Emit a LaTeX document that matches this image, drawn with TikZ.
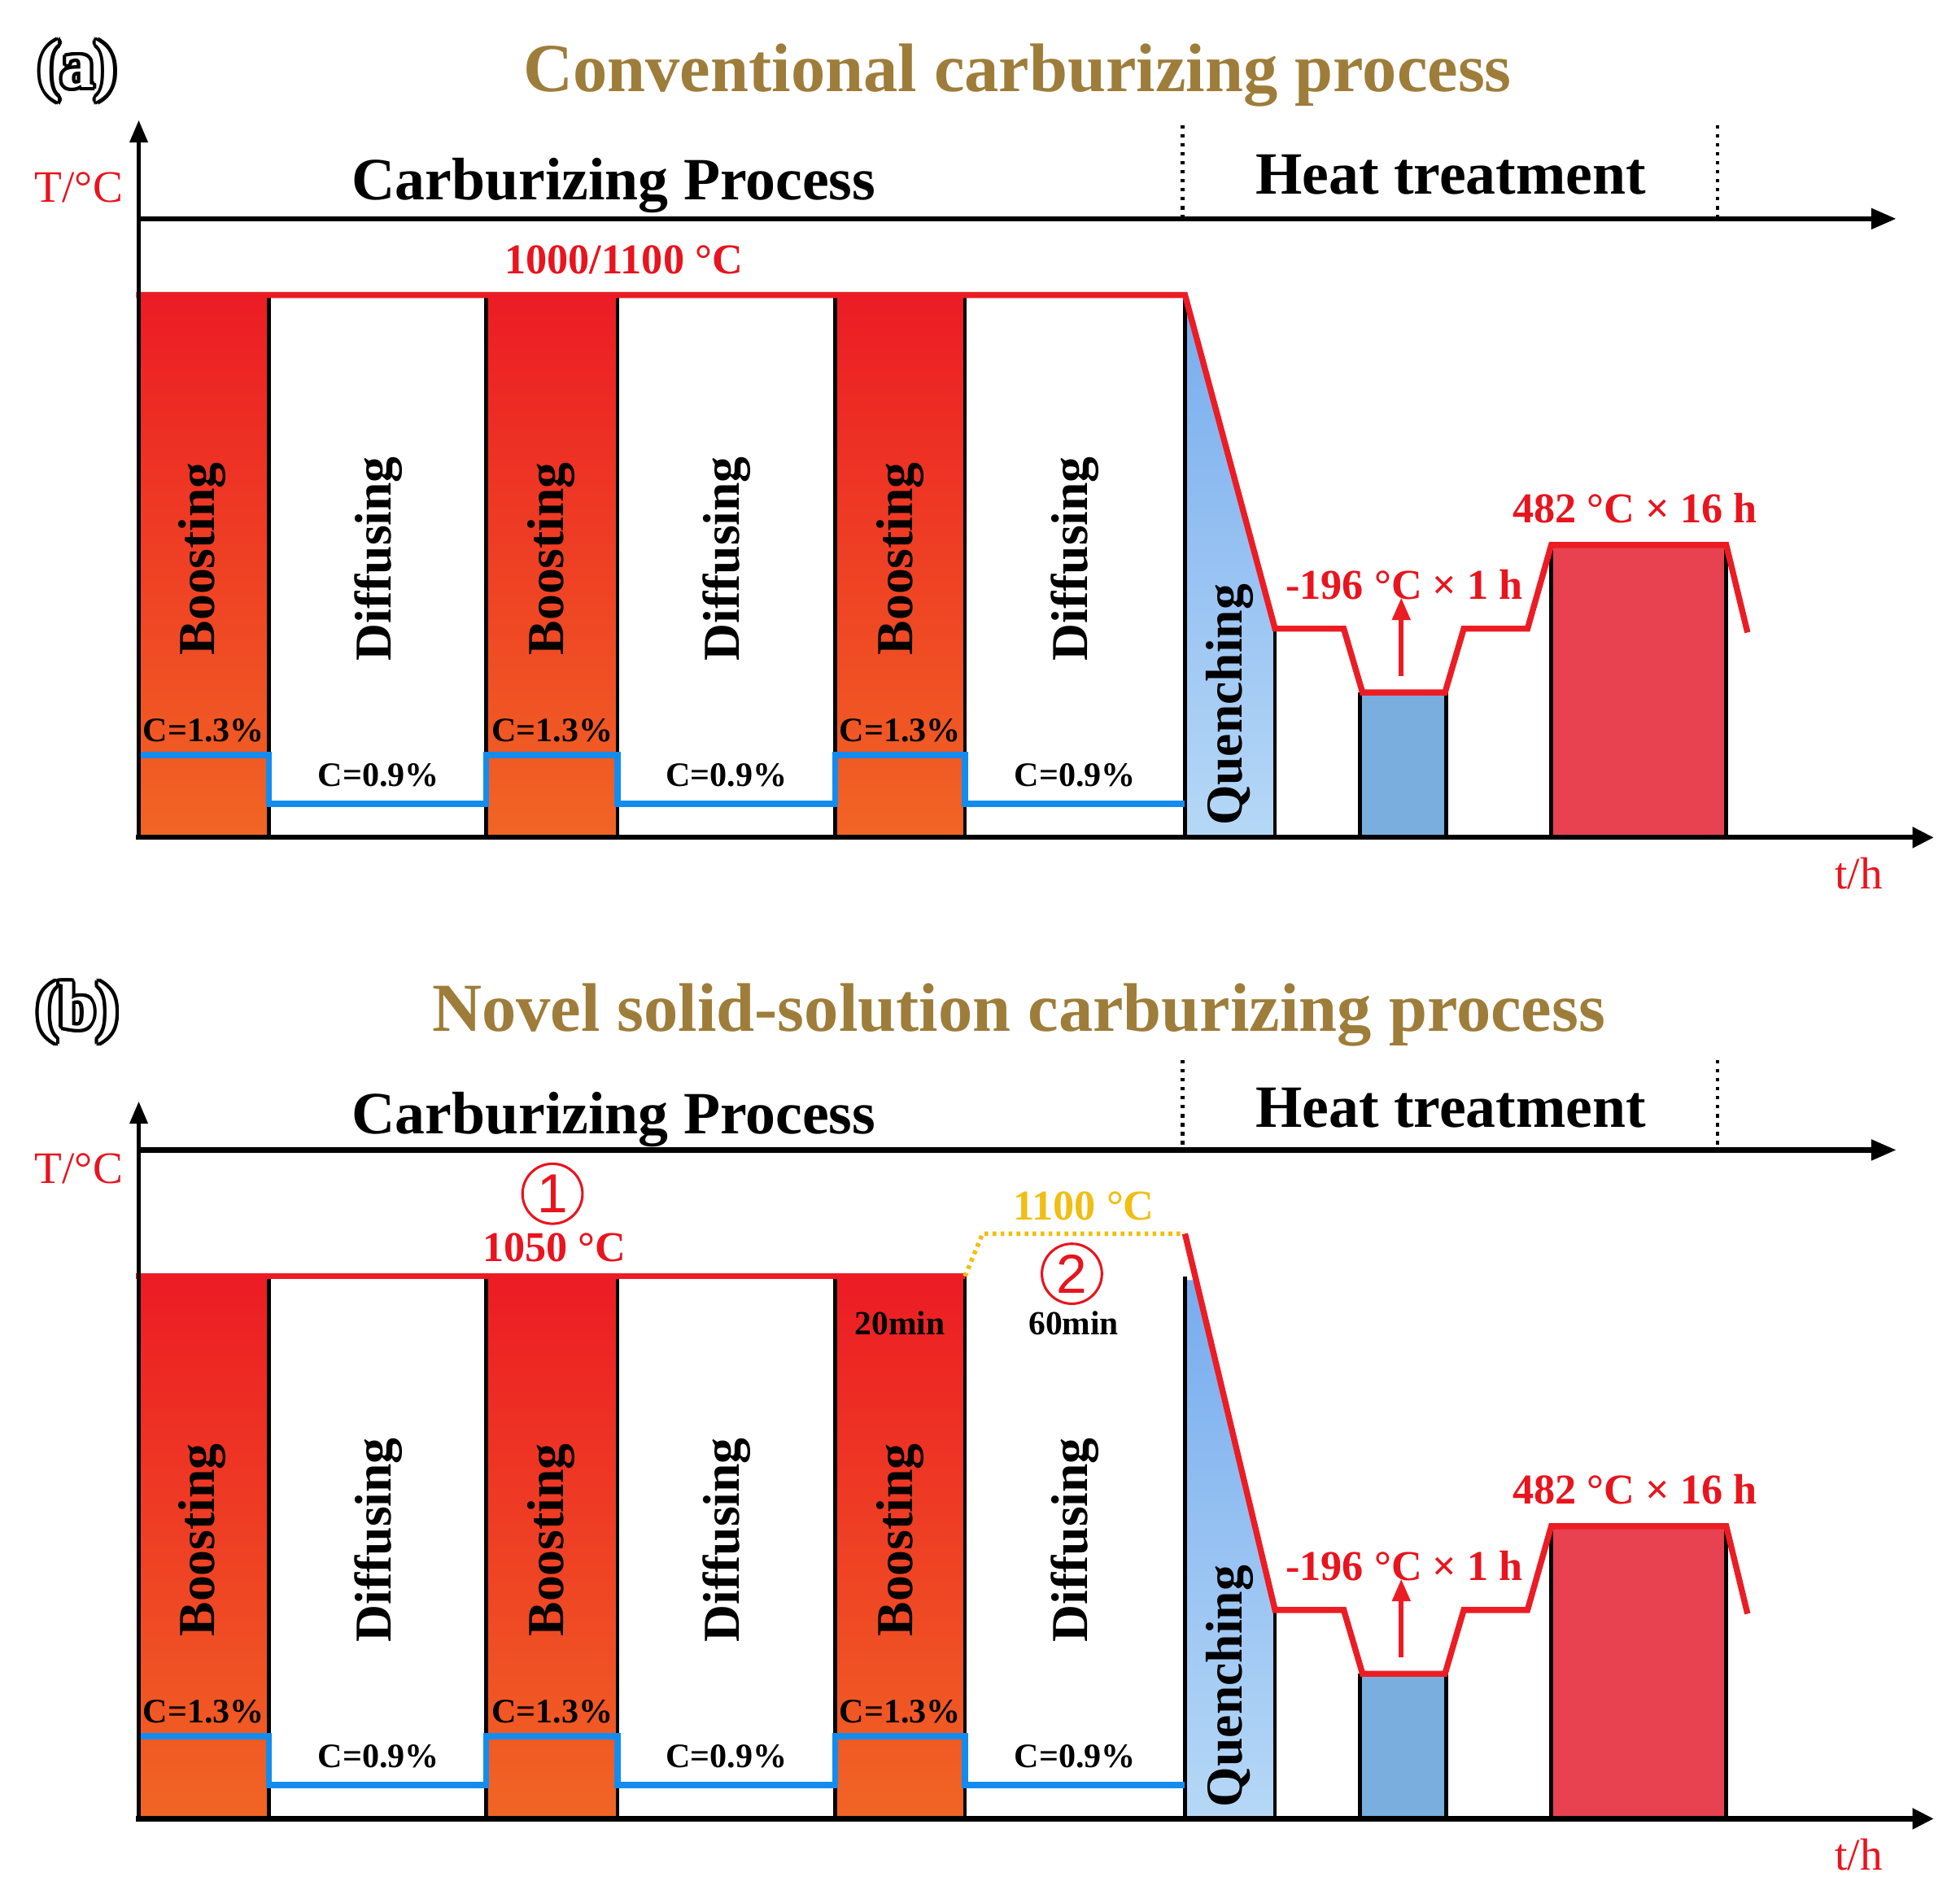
\documentclass[tikz,border=0pt]{standalone}
\usepackage{fontspec}
\setmainfont{Liberation Serif}
\newfontfamily\digfont{Liberation Sans}
\usetikzlibrary{arrows.meta,calc}
\definecolor{ttl}{RGB}{158,125,58}
\definecolor{hot}{RGB}{236,28,36}
\definecolor{txtred}{RGB}{232,20,30}
\definecolor{orng}{RGB}{241,101,36}
\definecolor{cblue}{RGB}{20,140,238}
\definecolor{qtop}{RGB}{120,172,238}
\definecolor{qbot}{RGB}{182,216,246}
\definecolor{dice}{RGB}{122,174,222}
\definecolor{temper}{RGB}{232,66,80}
\definecolor{gold}{RGB}{240,190,20}
\newcommand{\fs}[1]{\fontsize{#1}{#1}\selectfont}
\tikzset{
 every node/.style={inner sep=0pt, outer sep=0pt},
 colborder/.style={line width=1.5pt, draw=black},
 boostfill/.style={top color=hot, bottom color=orng},
 quenchfill/.style={top color=qtop, bottom color=qbot},
 tline/.style={draw=hot, line width=2.4pt, line join=miter},
 cline/.style={draw=cblue, line width=2.4pt, line join=miter},
 coltext/.style={rotate=90, font=\fs{20.7}\bfseries},
 ctext/.style={anchor=base, font=\fs{13.7}\bfseries},
 rlabel/.style={anchor=base, text=txtred, font=\fs{17}\bfseries},
 heading/.style={anchor=base, font=\fs{24}\bfseries},
 titletext/.style={anchor=base, text=ttl, font=\fs{27.5}\bfseries},
 axlabel/.style={anchor=base, text=txtred, font=\fs{18}},
 vdots/.style={line width=1.6pt, dash pattern=on 1.4pt off 2.2pt},
 ydots/.style={draw=gold, line width=1.8pt, dash pattern=on 1.5pt off 1.7pt},
 panellbl/.style={font=\fs{27}\bfseries},
 numcirc/.style={circle, draw=txtred, line width=1pt, minimum size=24pt, text=txtred, font=\digfont\fs{22}},
 yax/.style={line width=1.8pt, -{Triangle[length=9pt,width=7pt]}},
 topax/.style={line width=2pt, -{Triangle[length=10pt,width=8pt]}},
 botax/.style={line width=2pt, -{Triangle[length=8.5pt,width=8pt]}},
 uparrow/.style={draw=hot, line width=2pt, -{Triangle[length=9pt,width=7pt]}},
}
\newcommand{\lowpart}[1]{%
 \shade[boostfill] (111,236) rectangle (215,670);
 \shade[boostfill] (389,236) rectangle (494,670);
 \shade[boostfill] (668,236) rectangle (772,670);
 \fill[dice] (1088,554) rectangle (1157,670);
 \fill[temper] (1241,436) rectangle (1381,670);
 \foreach \xx in {215,389,494,668,772,948} \draw[colborder] (\xx,236) -- (\xx,670);
 \draw[colborder] (1020,503) -- (1020,670);
 \draw[colborder] (1088,554) -- (1088,670);
 \draw[colborder] (1157,554) -- (1157,670);
 \draw[colborder] (1241,436) -- (1241,670);
 \draw[colborder] (1381,436) -- (1381,670);
 \draw[cline] (111,604) -- (215,604) -- (215,643) -- (389,643) -- (389,604) -- (494,604) -- (494,643) -- (668,643) -- (668,604) -- (772,604) -- (772,643) -- (948,643);
 \node[coltext] (bo1#1) at (162,447) {Boosting};
 \node[coltext] (di1#1) at (303,447) {Diffusing};
 \node[coltext] (bo2#1) at (441,447) {Boosting};
 \node[coltext] (di2#1) at (581,447) {Diffusing};
 \node[coltext] (bo3#1) at (720,447) {Boosting};
 \node[coltext] (di3#1) at (860,447) {Diffusing};
 \node[coltext] (qu#1) at (984,564) {Quenching};
 \node[ctext] (ch1#1) at (163,593.5) {C=1.3\%};
 \node[ctext] (ch2#1) at (442,593.5) {C=1.3\%};
 \node[ctext] (ch3#1) at (720,593.5) {C=1.3\%};
 \node[ctext] (cl1#1) at (303,629) {C=0.9\%};
 \node[ctext] (cl2#1) at (581,629) {C=0.9\%};
 \node[ctext] (cl3#1) at (860,629) {C=0.9\%};
 \coordinate (arS#1) at (1121,541);
 \coordinate (arE#1) at (1121,478);
 \draw[uparrow] (arS#1) -- (arE#1);
 \node[rlabel] (cryo#1) at (1123.5,479.5) {-196 °C × 1 h};
 \node[rlabel] (temp#1) at (1308,418) {482 °C × 16 h};
}
\begin{document}
\begin{tikzpicture}[x=0.5pt,y=-0.5pt]
\useasboundingbox (0,0) rectangle (1568,1522);
\fill[white] (0,0) rectangle (1568,1522);

% ---------------- panel (a) ----------------
\foreach \ang in {0,30,...,330} \node[panellbl] at ($(62,57)+(\ang:1.4pt)$) {(a)};
\node[panellbl,text=white] (lblA) at (62,57) {(a)};
\node[titletext] (titleA) at (814,73) {Conventional carburizing process};
\node[heading] (carbA) at (491,159.5) {Carburizing Process};
\node[heading] (heatA) at (1160.5,155) {Heat treatment};
\node[axlabel] (TA) at (63,161.5) {T/°C};
\node[axlabel] (tA) at (1487,711) {t/h};
\coordinate (d1tA) at (946,100); \coordinate (d1bA) at (946,175);
\coordinate (d2tA) at (1374,100); \coordinate (d2bA) at (1374,175);
\draw[vdots] (d1tA) -- (d1bA);
\draw[vdots] (d2tA) -- (d2bA);

\shade[quenchfill] (948,236) -- (1020,503) -- (1020,670) -- (948,670) -- cycle;
\lowpart{A}
\draw[tline] (109,236) -- (948,236) -- (1020,503) -- (1075,503) -- (1090,554) -- (1156,554) -- (1171,503) -- (1222,503) -- (1241,436) -- (1381,436) -- (1398,506);
\node[rlabel] (tempA) at (499,219) {1000/1100 °C};

\coordinate (oA) at (111,672); \coordinate (yA) at (111,96);
\coordinate (tlA) at (111,175); \coordinate (trA) at (1517,175);
\coordinate (blA) at (109,670); \coordinate (brA) at (1547,670);
\draw[yax] (oA) -- (yA);
\draw[topax] (tlA) -- (trA);
\draw[botax] (blA) -- (brA);

% ---------------- panel (b) ----------------
\foreach \ang in {0,30,...,330} \node[panellbl] at ($(62,810)+(\ang:1.4pt)$) {(b)};
\node[panellbl,text=white] (lblB) at (62,810) {(b)};
\node[titletext] (titleB) at (815,825) {Novel solid-solution carburizing process};
\node[heading] (carbB) at (491,907) {Carburizing Process};
\node[heading] (heatB) at (1160.5,902) {Heat treatment};
\node[axlabel] (TB) at (63,947) {T/°C};
\node[axlabel] (tB) at (1487,1496) {t/h};
\coordinate (d1tB) at (946,848); \coordinate (d1bB) at (946,920);
\coordinate (d2tB) at (1374,848); \coordinate (d2bB) at (1374,920);
\draw[vdots] (d1tB) -- (d1bB);
\draw[vdots] (d2tB) -- (d2bB);

\begin{scope}[shift={(0,785)}]
\shade[quenchfill] (948,239) -- (956.8,239) -- (1020,503) -- (1020,670) -- (948,670) -- cycle;
\lowpart{B}
\draw[tline] (109,236) -- (772,236);
\draw[ydots] (772,236) -- (786,202) -- (948,202);
\draw[tline] (948,202) -- (1020,503) -- (1075,503) -- (1090,554) -- (1156,554) -- (1171,503) -- (1222,503) -- (1241,436) -- (1381,436) -- (1398,506);
\end{scope}

\node[numcirc] (n1) at (442,955) {1};
\node[rlabel] (t1050) at (443.6,1009) {1050 °C};
\node[anchor=base, text=gold, font=\fs{17}\bfseries] (t1100) at (867,976) {1100 °C};
\node[numcirc] (n2) at (857.5,1019) {2};
\node[anchor=base, font=\fs{13.5}\bfseries] (m20) at (720,1067.5) {20min};
\node[anchor=base, font=\fs{13.5}\bfseries] (m60) at (859,1067.5) {60min};

\coordinate (oB) at (111,1457); \coordinate (yB) at (111,881);
\coordinate (tlB) at (111,920); \coordinate (trB) at (1517,920);
\coordinate (blB) at (109,1455); \coordinate (brB) at (1547,1455);
\draw[yax] (oB) -- (yB);
\draw[topax] (tlB) -- (trB);
\draw[botax] (blB) -- (brB);
\end{tikzpicture}
\end{document}
